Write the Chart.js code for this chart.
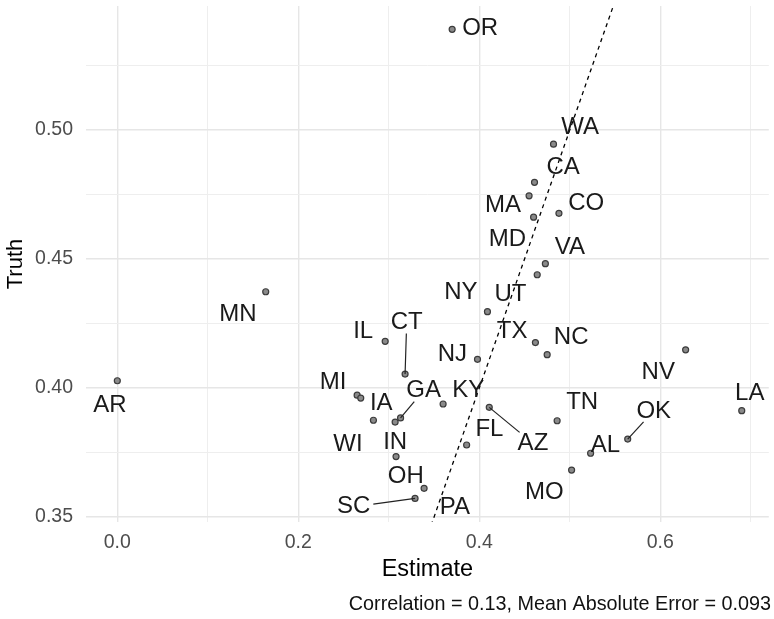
<!DOCTYPE html>
<html>
<head>
<meta charset="utf-8">
<script src="https://cdn.jsdelivr.net/npm/chart.js@4.4.1/dist/chart.umd.min.js"></script>
<style>
  html, body { margin: 0; padding: 0; background: #fff; overflow: hidden; }
  #wrap { width: 774px; height: 619px; }
  canvas { display: block; }
</style>
</head>
<body>
<div id="wrap"><canvas id="chart"></canvas></div>
<script>
// state labels, model estimate and true value
const states = ['OR', 'WA', 'CA', 'MA', 'CO', 'MD', 'VA', 'UT', 'NY', 'TX', 'NC', 'NJ', 'IL', 'CT', 'MN', 'AR', 'MI',
  'IA', 'WI', 'IN', 'GA', 'KY', 'FL', 'AZ', 'OH', 'PA', 'SC', 'TN', 'MO', 'AL', 'OK', 'NV', 'LA']
const estimates = [0.370, 0.482, 0.461, 0.455, 0.488, 0.460, 0.473, 0.464, 0.409, 0.462, 0.475, 0.398, 0.296, 0.318,
  0.164, 0.000, 0.265, 0.269, 0.283, 0.307, 0.313, 0.360, 0.386, 0.411, 0.308, 0.339, 0.329, 0.486, 0.502, 0.523,
  0.564, 0.628, 0.690]
const truths = [0.539, 0.4945, 0.4797, 0.4745, 0.4677, 0.4662, 0.4482, 0.4439, 0.4296, 0.4176, 0.4129, 0.4111, 0.4181,
  0.4054, 0.4373, 0.4028, 0.3972, 0.3961, 0.3875, 0.3868, 0.3884, 0.3938, 0.3779, 0.3925, 0.3734, 0.3611, 0.3572,
  0.3873, 0.3682, 0.3747, 0.3802, 0.4148, 0.3912]

const xGrid = [0, 0.1, 0.2, 0.3, 0.4, 0.5, 0.6, 0.7]
const yGrid = [0.35, 0.375, 0.40, 0.425, 0.45, 0.475, 0.50, 0.525]
const caption = 'Correlation = 0.13, Mean Absolute Error = 0.093'

// where each label sits relative to its point (px), and whether a leader line is drawn
const labelShift = [[28, -0.5], [26.7, -17], [28.6, -14.6], [-26, 9.3], [27.3, -9.5], [-26.2, 21.7], [24.5, -16.7],
  [-26.7, 19.3], [-26.5, -19.2], [-23.3, -11], [24, -17.2], [-25.1, -5.1], [-22, -10], [1.6, -51.5], [-27.7, 22.5],
  [-7.3, 25.1], [-24, -13.3], [20.5, 5.8], [-25.4, 23.9], [0, 20.5], [23, -27.2], [25.1, -13.5], [22.8, -15.8],
  [43.7, 36], [9.8, 20], [30.7, 19.2], [-61.4, 8.4], [25, -18.2], [-27.2, 22.5], [14.8, -8.3], [26, -28.2],
  [-27.4, 22.8], [8, -17.4]]
const withSegment = ['CT', 'GA', 'AZ', 'SC', 'OK']

const FONT = '"Liberation Sans", Arial, sans-serif'

const points = states.map((s, i) => ({ x: estimates[i], y: truths[i] }))

const labelPlugin = {
  id: 'stateLabels',
  afterDatasetsDraw(chart) {
    const ctx = chart.ctx
    const meta = chart.getDatasetMeta(1)
    ctx.save()
    ctx.font = '24px ' + FONT
    ctx.textAlign = 'center'
    ctx.textBaseline = 'middle'
    meta.data.forEach((pt, i) => {
      const cx = pt.x + labelShift[i][0]
      const cy = pt.y + labelShift[i][1]
      if (withSegment.includes(states[i])) {
        const hw = ctx.measureText(states[i]).width / 2 + 3
        const hh = 11
        const dx = pt.x - cx, dy = pt.y - cy
        const s = Math.min(dx ? hw / Math.abs(dx) : Infinity, dy ? hh / Math.abs(dy) : Infinity)
        if (s < 1) {
          ctx.strokeStyle = '#222'
          ctx.lineWidth = 1.2
          ctx.beginPath()
          ctx.moveTo(pt.x, pt.y)
          ctx.lineTo(cx + s * dx, cy + s * dy)
          ctx.stroke()
        }
      }
      ctx.fillStyle = '#1a1a1a'
      ctx.fillText(states[i], cx, cy)
    })
    ctx.restore()
  },
  afterDraw(chart) {
    const ctx = chart.ctx
    ctx.save()
    ctx.font = '19.8px ' + FONT
    ctx.fillStyle = '#111'
    ctx.textAlign = 'right'
    ctx.textBaseline = 'middle'
    ctx.fillText(caption, 771, 605)
    ctx.restore()
  }
}

new Chart(document.getElementById('chart'), {
  type: 'scatter',
  data: {
    datasets: [{
      type: 'line',
      data: [{ x: 0.3, y: 0.3 }, { x: 0.6, y: 0.6 }],
      borderColor: '#000',
      borderWidth: 1.3,
      borderDash: [4, 4],
      pointRadius: 0,
      fill: false
    }, {
      data: points,
      pointRadius: 3,
      pointBackgroundColor: '#8a8a8a',
      pointBorderColor: '#3c3c3c',
      pointBorderWidth: 1.2
    }]
  },
  options: {
    responsive: true,
    maintainAspectRatio: false,
    animation: false,
    layout: { padding: { top: 6, right: 2, left: 0, bottom: 0 } },
    plugins: { legend: { display: false }, tooltip: { enabled: false } },
    scales: {
      x: {
        type: 'linear',
        min: -0.0346,
        max: 0.7199,
        afterBuildTicks: s => { s.ticks = xGrid.map(v => ({ value: v })) },
        afterFit: s => { s.height = 97; s.paddingLeft = 0; s.paddingRight = 0 },
        border: { display: false },
        grid: {
          drawTicks: false,
          color: c => c.index % 2 ? '#eeeeee' : '#e6e6e6',
          lineWidth: c => c.index % 2 ? 1 : 1.4
        },
        ticks: {
          autoSkip: false,
          maxRotation: 0,
          padding: 9,
          color: '#4d4d4d',
          font: { family: FONT, size: 19.5 },
          callback: (v, i) => i % 2 ? '' : v.toFixed(1)
        },
        title: {
          display: true,
          text: 'Estimate',
          color: '#000',
          font: { family: FONT, size: 23.5 },
          padding: { top: 0, bottom: 35 }
        }
      },
      y: {
        type: 'linear',
        min: 0.34806,
        max: 0.54806,
        afterBuildTicks: s => { s.ticks = yGrid.map(v => ({ value: v })) },
        afterFit: s => { s.width = 86; s.paddingTop = 0; s.paddingBottom = 0 },
        border: { display: false },
        grid: {
          drawTicks: false,
          color: c => c.index % 2 ? '#eeeeee' : '#e6e6e6',
          lineWidth: c => c.index % 2 ? 1 : 1.4
        },
        ticks: {
          autoSkip: false,
          padding: 13,
          color: '#4d4d4d',
          font: { family: FONT, size: 19.5 },
          callback: (v, i) => i % 2 ? '' : v.toFixed(2)
        },
        title: {
          display: true,
          text: 'Truth',
          color: '#000',
          font: { family: FONT, size: 22 },
          padding: { top: 3, bottom: 0 }
        }
      }
    }
  },
  plugins: [labelPlugin]
})
</script>
</body>
</html>
